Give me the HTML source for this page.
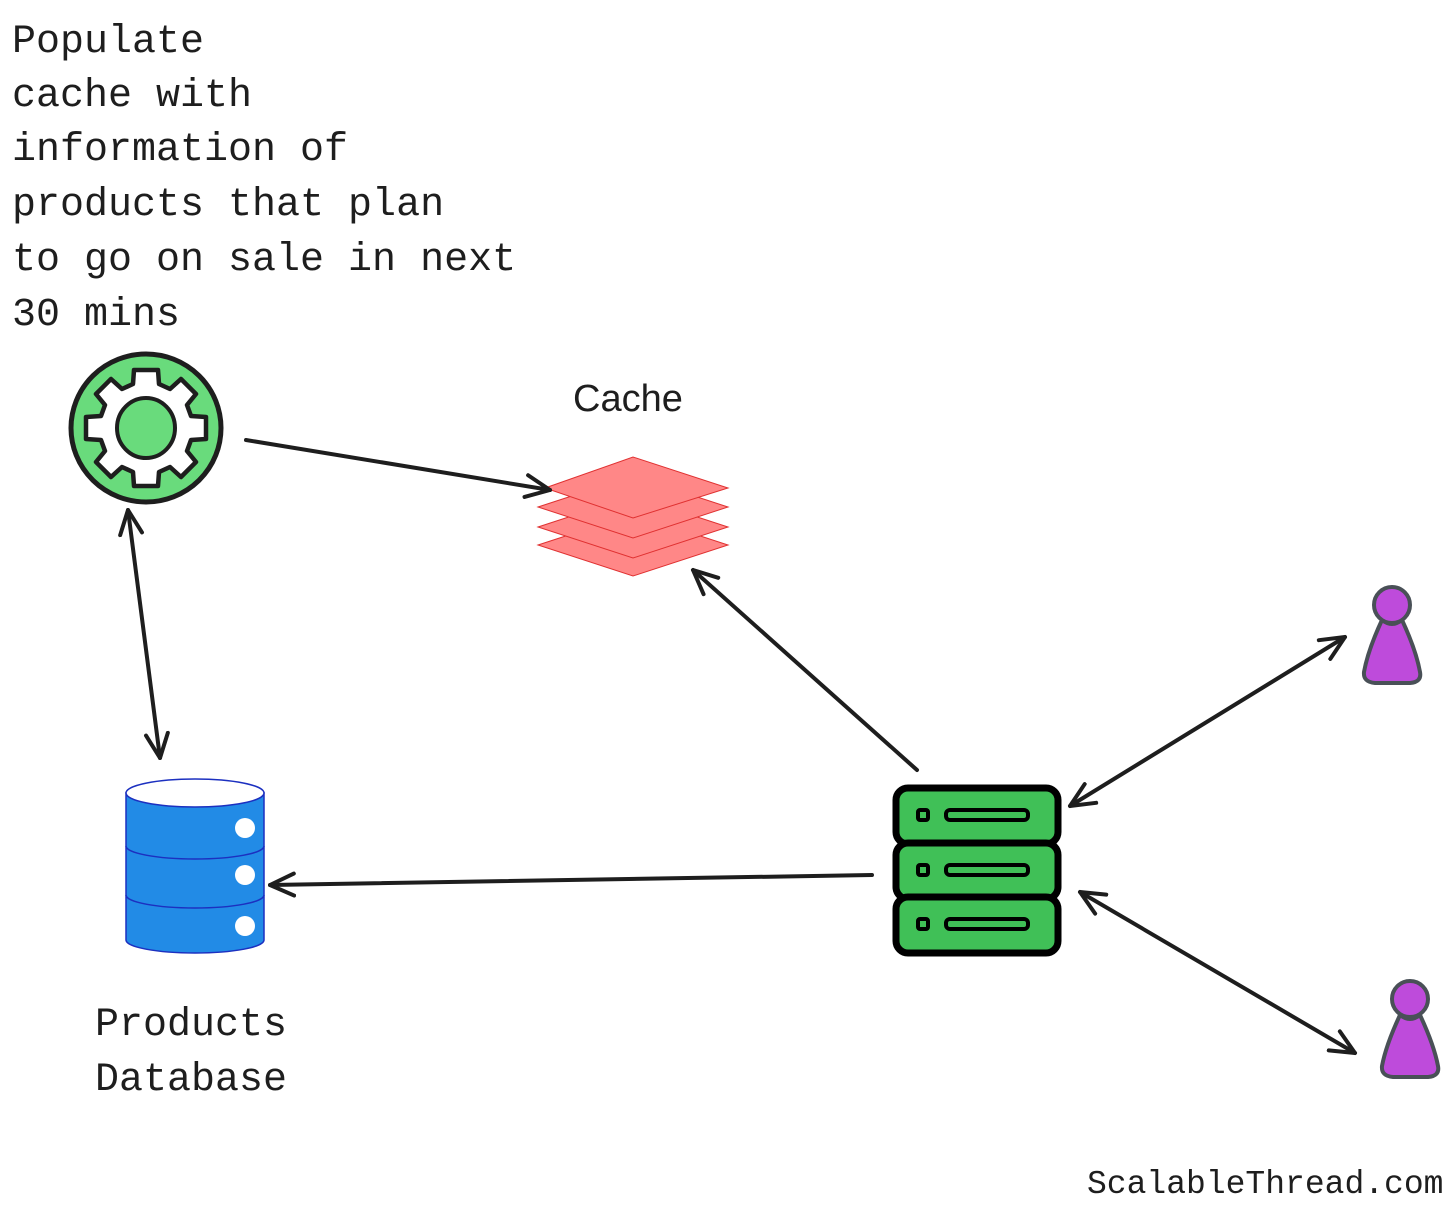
<!DOCTYPE html>
<html><head><meta charset="utf-8"><style>
body{margin:0;background:#fff}
svg{display:block}
.m{font-family:"Liberation Mono",monospace;fill:#1e1e1e}
</style></head><body>
<svg width="1456" height="1213" viewBox="0 0 1456 1213" xmlns="http://www.w3.org/2000/svg">
<defs>
<marker id="a" viewBox="0 0 28 28" refX="26" refY="14" markerWidth="28" markerHeight="28" markerUnits="userSpaceOnUse" orient="auto-start-reverse">
<path d="M2 3 L26 14 L2 25" fill="none" stroke="#1e1e1e" stroke-width="4" stroke-linecap="round" stroke-linejoin="round"/>
</marker>
</defs>
<g class="m" font-size="40">
<text x="12" y="52">Populate</text>
<text x="12" y="106">cache with</text>
<text x="12" y="160">information of</text>
<text x="12" y="215">products that plan</text>
<text x="12" y="270">to go on sale in next</text>
<text x="12" y="325">30 mins</text>
<text x="95" y="1035">Products</text>
<text x="95" y="1090">Database</text>
</g>
<text class="m" x="1087" y="1193" font-size="33">ScalableThread.com</text>
<text x="573" y="411" font-family="Liberation Sans,sans-serif" font-size="38" fill="#1e1e1e">Cache</text>

<!-- gear -->
<ellipse cx="146" cy="428" rx="75" ry="74" fill="#69db7c" stroke="#1e1e1e" stroke-width="5"/>
<g transform="translate(146,428)">
<path d="M-12,-58 L12,-58 L13,-44 L24,-39 L35,-49 L50,-34 L41,-23 L45,-12 L60,-11 L60,11 L45,12 L41,23 L50,34 L35,49 L24,39 L13,44 L12,58 L-12,58 L-13,44 L-24,39 L-35,49 L-50,34 L-41,23 L-45,12 L-60,11 L-60,-11 L-45,-12 L-41,-23 L-50,-34 L-35,-49 L-24,-39 L-13,-44 Z" fill="#fff" stroke="#1e1e1e" stroke-width="4.5" stroke-linejoin="round"/>
<ellipse cx="0" cy="0" rx="29" ry="30" fill="#69db7c" stroke="#1e1e1e" stroke-width="4"/>
</g>

<!-- cache -->
<g fill="#ff8787" stroke="#e03131" stroke-width="1">
<path d="M538 545 L633 514 L728 545 L633 576 Z"/>
<path d="M538 527 L633 496 L728 527 L633 558 Z"/>
<path d="M538 507 L633 476 L728 507 L633 538 Z"/>
<path d="M545 488 L633 457 L728 488 L633 518 Z"/>
</g>

<!-- db -->
<g stroke="#1c30c0" stroke-width="1.5" fill="#228be6">
<path d="M126 793 L126 940 A69 13 0 0 0 264 940 L264 793 Z"/>
<path d="M126 846 A69 13 0 0 0 264 846 M126 895 A69 13 0 0 0 264 895" fill="none"/>
<ellipse cx="195" cy="793" rx="69" ry="14" fill="#fff"/>
</g>
<g fill="#fff"><circle cx="245" cy="828" r="10"/><circle cx="245" cy="875" r="10"/><circle cx="245" cy="926" r="10"/></g>

<!-- server -->
<g stroke="#000" stroke-width="7" fill="#40c057">
<rect x="896" y="788" width="162" height="56" rx="12"/>
<rect x="896" y="843" width="162" height="56" rx="12"/>
<rect x="896" y="897" width="162" height="56" rx="12"/>
</g>
<g stroke="#000" stroke-width="4" fill="#40c057">
<rect x="918" y="810" width="10" height="10" rx="2"/><rect x="946" y="810" width="82" height="10" rx="4"/>
<rect x="918" y="865" width="10" height="10" rx="2"/><rect x="946" y="865" width="82" height="10" rx="4"/>
<rect x="918" y="919" width="10" height="10" rx="2"/><rect x="946" y="919" width="82" height="10" rx="4"/>
</g>

<!-- users -->
<g fill="#be4bdb" stroke="#495057" stroke-width="4" stroke-linejoin="round">
<path d="M1382 620 Q1368 650 1364 672 Q1363 682 1375 683 L1410 683 Q1422 682 1420 672 Q1416 650 1402 620 Q1392 628 1382 620 Z"/>
<circle cx="1392" cy="605" r="18"/>
<path d="M1400 1015 Q1386 1045 1382 1066 Q1381 1076 1393 1077 L1428 1077 Q1440 1076 1438 1066 Q1434 1045 1420 1015 Q1410 1023 1400 1015 Z"/>
<circle cx="1410" cy="999" r="18"/>
</g>

<!-- arrows -->
<g stroke="#1e1e1e" stroke-width="4" fill="none" stroke-linecap="round">
<line x1="246" y1="440" x2="550" y2="490" marker-end="url(#a)"/>
<line x1="128" y1="510" x2="160" y2="758" marker-start="url(#a)" marker-end="url(#a)"/>
<line x1="917" y1="770" x2="693" y2="570" marker-end="url(#a)"/>
<line x1="872" y1="875" x2="270" y2="885" marker-end="url(#a)"/>
<line x1="1070" y1="806" x2="1345" y2="637" marker-start="url(#a)" marker-end="url(#a)"/>
<line x1="1080" y1="892" x2="1355" y2="1053" marker-start="url(#a)" marker-end="url(#a)"/>
</g>
</svg>
</body></html>
